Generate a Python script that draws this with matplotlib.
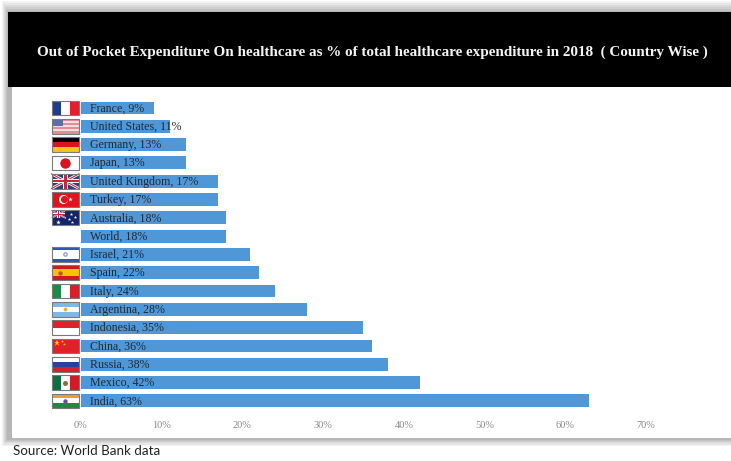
import matplotlib
matplotlib.use('Agg')
import matplotlib.pyplot as plt
from matplotlib.patches import Rectangle

countries = ['France', 'United States', 'Germany', 'Japan', 'United Kingdom', 'Turkey',
             'Australia', 'World', 'Israel', 'Spain', 'Italy', 'Argentina', 'Indonesia',
             'China', 'Russia', 'Mexico', 'India']
values = [9, 11, 13, 13, 17, 17, 18, 18, 21, 22, 24, 28, 35, 36, 38, 42, 63]
x_ticks = [0, 10, 20, 30, 40, 50, 60, 70]
title = 'Out of Pocket Expenditure On healthcare as % of total healthcare expenditure in 2018  ( Country Wise )'
source = 'Source: World Bank data'

W, H = 731, 461
SERIF = 'Liberation Serif'

fig = plt.figure(figsize=(W / 100, H / 100), dpi=100, facecolor='white')


def px_rect(x0, y0, x1, y1, color):
    # rectangle on the figure, given in pixels from the top left
    fig.add_artist(Rectangle((x0 / W, 1 - y1 / H), (x1 - x0) / W, (y1 - y0) / H,
                             transform=fig.transFigure, facecolor=color,
                             edgecolor='none', zorder=-5))


# soft panel shadow, then the panel and its black header
for inset, shade in enumerate(['#f2f2f2', '#e6e6e6', '#dadada', '#cecece', '#c2c2c2', '#b6b6b6']):
    px_rect(2 + inset, 1 + 2 * inset, W, 446 - 1.3 * inset, shade)
px_rect(12, 87, W, 438, 'white')
px_rect(8, 12, W, 87, 'black')

fig.text(372 / W, 1 - 52 / H, title, color='#f4f4f4', family=SERIF, fontweight='bold',
         fontsize=10.9, ha='center', va='center')
fig.text(13 / W, 1 - 451 / H, source, color='#222222', family='Lato',
         fontsize=9.6, ha='left', va='center')

ax = fig.add_axes([81 / W, 1 - 415 / H, 645.6 / W, 325 / H], facecolor='none')
ax.set_xlim(0, 80)
ax.set_ylim(16.77, -0.98)

rows = list(range(len(countries)))
ax.barh(rows, values, height=0.7, color='#4f97d6')
for i, (name, v) in enumerate(zip(countries, values)):
    ax.text(1.1, i + 0.03, f'{name}, {v}%', family=SERIF, fontsize=8.6, color='#1e2a36',
            ha='left', va='center')

ax.set_xticks(x_ticks)
ax.set_xticklabels([f'{t}%' for t in x_ticks], family=SERIF, fontsize=7.5, color='#8a8a8a')
ax.set_yticks([])
ax.tick_params(axis='x', length=0, pad=4)
for s in ax.spines.values():
    s.set_visible(False)

# flag box, in data units left of the zero line
FX, FW, FH = -3.65, 3.4, 0.8


def box(fx0, fy0, fx1, fy1, row, color):
    ax.add_patch(Rectangle((FX + fx0 * FW, row - FH / 2 + fy0 * FH), (fx1 - fx0) * FW, (fy1 - fy0) * FH,
                           facecolor=color, edgecolor='none', clip_on=False, zorder=4))


def vstripes(row, colors):
    for k, c in enumerate(colors):
        box(k / len(colors), 0, (k + 1) / len(colors), 1, row, c)


def hstripes(row, colors):
    for k, c in enumerate(colors):
        box(0, k / len(colors), 1, (k + 1) / len(colors), row, c)


def star(fx, fy, row, size, color):
    ax.plot(FX + fx * FW, row - FH / 2 + fy * FH, '*', ms=size, color=color, mew=0,
            clip_on=False, zorder=6)


def dot(fx, fy, row, size, color):
    ax.plot(FX + fx * FW, row - FH / 2 + fy * FH, 'o', ms=size, color=color, mew=0,
            clip_on=False, zorder=6)


def union_jack(row, x1, y1):
    box(0, 0, x1, y1, row, '#2c3f80')
    for pts, c, t in [([(0, 0), (x1, y1)], 'white', 2.0), ([(0, y1), (x1, 0)], 'white', 2.0),
                      ([(0, 0), (x1, y1)], '#c8283c', 0.8), ([(0, y1), (x1, 0)], '#c8283c', 0.8)]:
        ax.plot([FX + p[0] * FW for p in pts], [row - FH / 2 + p[1] * FH for p in pts],
                color=c, lw=t * x1, clip_on=False, zorder=5)
    ax.add_patch(Rectangle((FX + (x1 / 2 - 0.09 * x1) * FW, row - FH / 2), 0.18 * x1 * FW, y1 * FH,
                           facecolor='white', edgecolor='none', clip_on=False, zorder=6))
    ax.add_patch(Rectangle((FX, row - FH / 2 + (0.5 - 0.14) * y1 * FH), x1 * FW, 0.28 * y1 * FH,
                           facecolor='white', edgecolor='none', clip_on=False, zorder=6))
    ax.add_patch(Rectangle((FX + (x1 / 2 - 0.05 * x1) * FW, row - FH / 2), 0.10 * x1 * FW, y1 * FH,
                           facecolor='#c8283c', edgecolor='none', clip_on=False, zorder=7))
    ax.add_patch(Rectangle((FX, row - FH / 2 + (0.5 - 0.08) * y1 * FH), x1 * FW, 0.16 * y1 * FH,
                           facecolor='#c8283c', edgecolor='none', clip_on=False, zorder=7))


def draw_flag(name, row):
    if name == 'France':
        vstripes(row, ['#1f3a93', 'white', '#e0202c'])
    elif name == 'United States':
        hstripes(row, ['#e08f98', '#f6dcdc'] * 3 + ['#e08f98'])
        box(0, 0, 0.42, 0.5, row, '#5a6ea8')
    elif name == 'Germany':
        hstripes(row, ['black', '#d8141c', '#f5c518'])
    elif name == 'Japan':
        box(0, 0, 1, 1, row, 'white')
        dot(0.5, 0.5, row, 7.5, '#d8141c')
    elif name == 'United Kingdom':
        union_jack(row, 1, 1)
    elif name == 'Turkey':
        box(0, 0, 1, 1, row, '#e0141c')
        dot(0.42, 0.5, row, 6.5, 'white')
        ax.plot(FX + 0.47 * FW, row, 'o', ms=5.2, color='#e0141c', mew=0, clip_on=False, zorder=7)
        star(0.68, 0.5, row, 3.5, 'white')
    elif name == 'Australia':
        box(0, 0, 1, 1, row, '#14246c')
        union_jack(row, 0.5, 0.5)
        for fx, fy, s in [(0.25, 0.77, 3.5), (0.72, 0.25, 2.5), (0.85, 0.45, 2.5), (0.62, 0.55, 2.5), (0.73, 0.82, 2.5)]:
            star(fx, fy, row, s, 'white')
    elif name == 'Israel':
        hstripes(row, ['#2f55b5', 'white', 'white', 'white', '#2f55b5'])
        dot(0.5, 0.5, row, 3.2, '#6f8ccc')
        dot(0.5, 0.5, row, 1.6, 'white')
    elif name == 'Spain':
        hstripes(row, ['#cc1a20', '#f5c400', '#f5c400', '#cc1a20'])
        dot(0.3, 0.5, row, 3.2, '#b4581e')
    elif name == 'Italy':
        vstripes(row, ['#1b8a46', 'white', '#d8202c'])
    elif name == 'Argentina':
        hstripes(row, ['#7fb8e6', 'white', '#7fb8e6'])
        dot(0.5, 0.5, row, 2.8, '#f0b030')
    elif name == 'Indonesia':
        hstripes(row, ['#e4202c', 'white'])
    elif name == 'China':
        box(0, 0, 1, 1, row, '#e0202a')
        star(0.2, 0.32, row, 5, '#f5d000')
        star(0.38, 0.14, row, 2.2, '#f5d000')
        star(0.46, 0.34, row, 2.2, '#f5d000')
    elif name == 'Russia':
        hstripes(row, ['white', '#2b3f9e', '#d8202c'])
    elif name == 'Mexico':
        vstripes(row, ['#0f6e42', 'white', '#d01c28'])
        dot(0.5, 0.5, row, 3.6, '#8a6a3a')
    elif name == 'India':
        hstripes(row, ['#f39a30', 'white', '#1f8a3c'])
        dot(0.5, 0.5, row, 3.2, '#5a5a9c')
    else:
        return
    ax.add_patch(Rectangle((FX, row - FH / 2), FW, FH, facecolor='none', edgecolor='#7a7a7a',
                           lw=0.8, clip_on=False, zorder=8))


for i, name in enumerate(countries):
    if name != 'World':
        draw_flag(name, i)

fig.savefig('out.png', dpi=100)
